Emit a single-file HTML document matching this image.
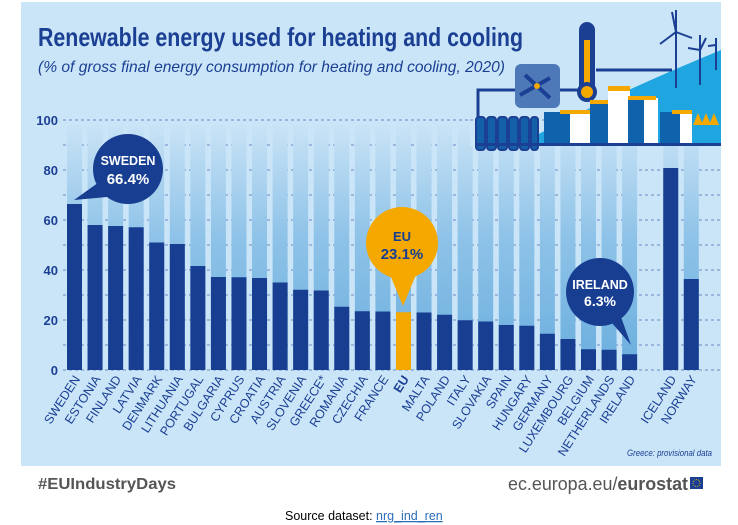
<!DOCTYPE html>
<html><head><meta charset="utf-8">
<style>
body{margin:0;background:#fff;width:738px;height:525px;overflow:hidden;font-family:"Liberation Sans",sans-serif}
svg{display:block}
</style></head>
<body>
<svg id="chart" width="738" height="525" viewBox="0 0 738 525" xmlns="http://www.w3.org/2000/svg">
<defs>
<linearGradient id="colg" x1="0" y1="0" x2="0" y2="1">
<stop offset="0" stop-color="#c9e3f6"/>
<stop offset="0.45" stop-color="#8fc3e8"/>
<stop offset="1" stop-color="#6aaede"/>
</linearGradient>
</defs>
<rect x="21" y="2" width="700" height="464" fill="#cbe5f8"/>
<text x="38" y="46" font-family="'Liberation Sans Narrow','Liberation Sans',sans-serif" font-weight="bold" font-size="26" fill="#1b3f93" textLength="485" lengthAdjust="spacingAndGlyphs">Renewable energy used for heating and cooling</text>
<text x="38" y="72" font-style="italic" font-size="16" fill="#1b3f93" textLength="467" lengthAdjust="spacingAndGlyphs">(% of gross final energy consumption for heating and cooling, 2020)</text>

<g id="grid"></g>
<g id="cols"></g>
<g id="bars"></g>
<g id="labels"></g>

<!-- illustration -->
<g>
<rect x="470" y="100" width="251" height="46" fill="#cbe5f8"/>
<line x1="470" y1="120" x2="720" y2="120" stroke="#4a6fb0" stroke-width="0.8" stroke-dasharray="3 3"/>
<path d="M520 144 Q600 100 721 50 L721 144 Z" fill="#1fa6e0"/>
<g stroke="#1b3f93" stroke-width="2" fill="none">
<line x1="676" y1="10" x2="676" y2="88"/><line x1="676" y1="32" x2="660" y2="44"/><line x1="676" y1="32" x2="692" y2="38"/><line x1="676" y1="32" x2="672" y2="12"/>
<line x1="700" y1="35" x2="700" y2="85"/><line x1="700" y1="50" x2="688" y2="48"/><line x1="700" y1="50" x2="706" y2="38"/>
<line x1="716" y1="38" x2="716" y2="70"/><line x1="716" y1="45" x2="708" y2="46"/>
<path d="M478 120 V90 H515 M560 90 H580 M596 70 H672" stroke-width="3"/>
</g>
<rect x="515" y="64" width="45" height="44" rx="6" fill="#4e79b8"/>
<path d="M520 95 L550 78 M525 75 L550 98" stroke="#1b3f93" stroke-width="4"/>
<circle cx="537" cy="86" r="3" fill="#f5a800"/>
<rect x="579" y="22" width="16" height="72" rx="8" fill="#1b3f93"/>
<rect x="584" y="40" width="6" height="55" fill="#f5a800"/>
<circle cx="587" cy="92" r="10" fill="#1b3f93"/><circle cx="587" cy="92" r="6" fill="#f5a800"/>
<g fill="#1360a8" stroke="#1b3f93" stroke-width="2">
<rect x="476" y="117" width="9" height="33" rx="3"/><rect x="487" y="117" width="9" height="33" rx="3"/><rect x="498" y="117" width="9" height="33" rx="3"/><rect x="509" y="117" width="9" height="33" rx="3"/><rect x="520" y="117" width="9" height="33" rx="3"/><rect x="531" y="117" width="7" height="33" rx="3"/>
</g>
<rect x="544" y="112" width="30" height="32" fill="#0f62ac"/><rect x="570" y="112" width="20" height="32" fill="#fff"/><rect x="560" y="110" width="30" height="4" fill="#f5a800"/>
<rect x="590" y="102" width="18" height="42" fill="#0f62ac"/><rect x="590" y="100" width="20" height="4" fill="#f5a800"/>
<rect x="608" y="88" width="22" height="56" fill="#fff"/><rect x="608" y="86" width="22" height="5" fill="#f5a800"/>
<rect x="628" y="98" width="18" height="46" fill="#0f62ac"/><rect x="644" y="98" width="14" height="46" fill="#fff"/><rect x="628" y="96" width="28" height="4" fill="#f5a800"/>
<rect x="660" y="112" width="20" height="32" fill="#0f62ac"/><rect x="680" y="112" width="12" height="32" fill="#fff"/><rect x="672" y="110" width="20" height="4" fill="#f5a800"/>
<path d="M693 125 l5 -12 l5 12 z M701 125 l5 -12 l5 12 z M709 125 l5 -12 l5 12 z" fill="#f5a800"/>
<rect x="475" y="143" width="246" height="3" fill="#1b3f93"/>
</g>

<g>
<path d="M74 200 L102 180 L118 196 Z" fill="#173e91"/>
<circle cx="128" cy="169" r="35" fill="#173e91"/>
<text x="128" y="165" text-anchor="middle" fill="#fff" font-weight="bold" font-size="12.5">SWEDEN</text>
<text x="128" y="184" text-anchor="middle" fill="#fff" font-weight="bold" font-size="15">66.4%</text>
</g>
<g>
<path d="M388 270 L418 270 L403 306 Z" fill="#f5a800"/>
<circle cx="402" cy="243" r="36" fill="#f5a800"/>
<text x="402" y="241" text-anchor="middle" fill="#173e91" font-weight="bold" font-size="13">EU</text>
<text x="402" y="259" text-anchor="middle" fill="#173e91" font-weight="bold" font-size="15">23.1%</text>
</g>
<g>
<path d="M615 300 L631 345 L605 315 Z" fill="#173e91"/>
<circle cx="600" cy="292" r="34" fill="#173e91"/>
<text x="600" y="289" text-anchor="middle" fill="#fff" font-weight="bold" font-size="12.5">IRELAND</text>
<text x="600" y="306" text-anchor="middle" fill="#fff" font-weight="bold" font-size="14">6.3%</text>
</g>

<text x="712" y="456" text-anchor="end" font-style="italic" font-size="9" fill="#1b3f93" textLength="85" lengthAdjust="spacingAndGlyphs">Greece: provisional data</text>
<text x="38" y="489" font-weight="bold" font-size="16" fill="#555" textLength="138" lengthAdjust="spacingAndGlyphs">#EUIndustryDays</text>
<text x="688" y="490" text-anchor="end" font-size="18" fill="#555" textLength="180" lengthAdjust="spacingAndGlyphs">ec.europa.eu/<tspan font-weight="bold">eurostat</tspan></text>
<rect x="690" y="477" width="13" height="12" fill="#1b3f93"/>
<circle cx="696.5" cy="483" r="3.5" fill="none" stroke="#f5c400" stroke-width="0.8" stroke-dasharray="1 1"/>
<text x="285" y="520" font-size="12.5" fill="#000">Source dataset: <tspan fill="#2a6ebb" text-decoration="underline">nrg_ind_ren</tspan></text>
</svg>
<script>
const categories=["SWEDEN","ESTONIA","FINLAND","LATVIA","DENMARK","LITHUANIA","PORTUGAL","BULGARIA","CYPRUS","CROATIA","AUSTRIA","SLOVENIA","GREECE*","ROMANIA","CZECHIA","FRANCE","EU","MALTA","POLAND","ITALY","SLOVAKIA","SPAIN","HUNGARY","GERMANY","LUXEMBOURG","BELGIUM","NETHERLANDS","IRELAND","","ICELAND","NORWAY"];
const values=[66.4,58.0,57.6,57.1,51.0,50.4,41.6,37.2,37.1,36.8,35.0,32.1,31.8,25.3,23.5,23.4,23.1,23.0,22.1,19.9,19.4,18.0,17.7,14.5,12.4,8.3,8.1,6.3,null,80.8,36.4];
const yTicks=[0,20,40,60,80,100];
const NS="http://www.w3.org/2000/svg";
const y0=370,y100=120,xs0=74.5,step=20.56,bw=15;
function yScale(v){return y0-(v/100)*(y0-y100);}
function xScale(i){return xs0+i*step;}
function mk(t,a,p){const e=document.createElementNS(NS,t);for(const k in a)e.setAttribute(k,a[k]);p.appendChild(e);return e;}
const grid=document.getElementById('grid');
for(let v=0;v<=100;v+=10){
  const ln=mk('line',{x1:63,x2:720,y1:yScale(v),y2:yScale(v),stroke:'#4a6fb0','stroke-width':0.8,'stroke-dasharray':'3 3'},grid);
  
  
}
yTicks.forEach(v=>{
  const t=mk('text',{x:58,y:yScale(v)+5,'text-anchor':'end','font-size':13,'font-weight':'bold',fill:'#1b3f93'},grid);
  t.textContent=v;
  
  
});
const cols=document.getElementById('cols'),bars=document.getElementById('bars'),labels=document.getElementById('labels');
categories.forEach((c,i)=>{
  if(!c)return;
  const x=xScale(i)-bw/2;
  const col=mk('rect',{x:x,y:y100+5,width:bw,height:y0-y100-5,fill:'url(#colg)'},cols);
  
  
  const v=values[i];
  const b=mk('rect',{x:x,y:yScale(v),width:bw,height:y0-yScale(v),fill:c==='EU'?'#f5a800':'#173e91'},bars);
  
  
  const cx=xScale(i)+6,cy=379;
  const t=mk('text',{x:cx,y:cy,'text-anchor':'end','font-size':12.5,fill:'#1b3f93','font-weight':c==='EU'?'bold':'normal',transform:`rotate(-57 ${cx} ${cy})`},labels);
  t.textContent=c;
  
  
});
</script>
</body></html>
